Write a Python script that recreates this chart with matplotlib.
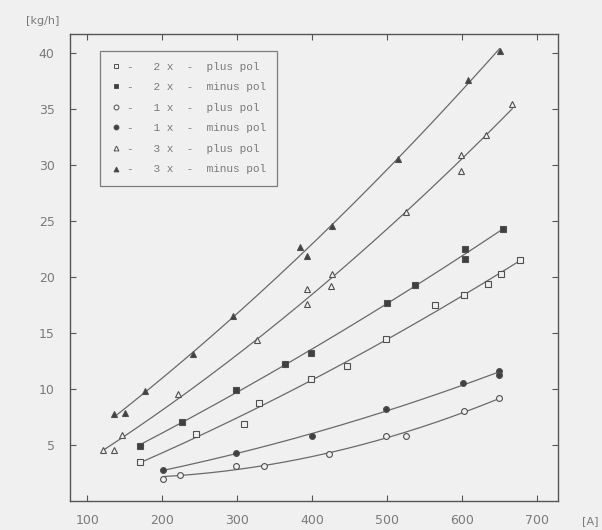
import numpy as np
import matplotlib
matplotlib.use('Agg')
import matplotlib.pyplot as plt
from matplotlib.lines import Line2D

# ---- data (current [A] vs. mass [kg/h]) ----
x_3x_minus = [136, 150, 177, 241, 295, 384, 393, 427, 515, 608, 650]
y_3x_minus = [7.8, 7.9, 9.85, 13.1, 16.5, 22.7, 21.9, 24.6, 30.6, 37.6, 40.2]

x_3x_plus = [121, 136, 146, 221, 326, 393, 393, 426, 425, 525, 599, 598, 632, 667]
y_3x_plus = [4.55, 4.55, 5.9, 9.6, 14.4, 18.9, 17.6, 20.3, 19.2, 25.8, 30.9, 29.5, 32.7, 35.5]

x_2x_minus = [170, 226, 299, 364, 398, 500, 537, 604, 604, 654]
y_2x_minus = [4.9, 7.1, 9.9, 12.2, 13.2, 17.65, 19.3, 22.5, 21.6, 24.3]

x_2x_plus = [170, 245, 309, 329, 399, 446, 499, 564, 602, 634, 652, 677]
y_2x_plus = [3.45, 5.95, 6.9, 8.8, 10.9, 12.1, 14.5, 17.5, 18.4, 19.4, 20.3, 21.5]

x_1x_minus = [201, 299, 400, 498, 601, 649, 649]
y_1x_minus = [2.77, 4.26, 5.8, 8.2, 10.5, 11.6, 11.3]

x_1x_plus = [201, 224, 299, 336, 423, 499, 525, 602, 649]
y_1x_plus = [2.0, 2.3, 3.15, 3.15, 4.2, 5.8, 5.8, 8.0, 9.2]

labels = ["2 x  -  plus pol", "2 x  -  minus pol", "1 x  -  plus pol",
          "1 x  -  minus pol", "3 x  -  plus pol", "3 x  -  minus pol"]
x_ticks = [100, 200, 300, 400, 500, 600, 700]
y_ticks = [5, 10, 15, 20, 25, 30, 35, 40]

BG = '#f0f0f0'
LC = '#6a6a6a'
TC = '#7a7a7a'

fig = plt.figure(figsize=(6.02, 5.30), dpi=100, facecolor=BG)
ax = fig.add_axes([70/602, 29/530, 488/602, 466.7/530])
ax.set_facecolor(BG)

series = [
    (x_2x_plus, y_2x_plus, 's', False),
    (x_2x_minus, y_2x_minus, 's', True),
    (x_1x_plus, y_1x_plus, 'o', False),
    (x_1x_minus, y_1x_minus, 'o', True),
    (x_3x_plus, y_3x_plus, '^', False),
    (x_3x_minus, y_3x_minus, '^', True),
]

handles = []
for xs, ys, mk, filled in series:
    xs = np.array(xs, float)
    ys = np.array(ys, float)
    c = np.polyfit(xs, ys, 2)
    xx = np.linspace(xs.min(), xs.max(), 200)
    ax.plot(xx, np.polyval(c, xx), color=LC, lw=0.9, zorder=2)
    fc = '#404040' if filled else BG
    ax.plot(xs, ys, linestyle='none', marker=mk, ms=4.2, mfc=fc,
            mec='#505050', mew=0.8, zorder=3)
    handles.append(Line2D([], [], linestyle='none', marker=mk, ms=3.5,
                          mfc=fc, mec='#505050', mew=0.7))

ax.set_xlim(77, 728)
ax.set_ylim(0, 41.7)
ax.set_xticks(x_ticks)
ax.set_yticks(y_ticks)
ax.tick_params(direction='in', top=True, right=True, length=4, width=0.8,
               colors='#555555', labelcolor=TC, labelsize=9)
ax.tick_params(axis='y', pad=11)
ax.tick_params(axis='x', pad=9)
for s in ax.spines.values():
    s.set_color('#555555')
    s.set_linewidth(1.0)

leg = ax.legend(handles, ["-   " + l for l in labels], loc='upper left',
                bbox_to_anchor=(0.051, 0.977), frameon=True, fancybox=False,
                handlelength=0.8, handletextpad=0.6, labelspacing=0.95,
                borderpad=1.0, prop={'family': 'Liberation Mono', 'size': 8})
leg.get_frame().set_edgecolor('#606060')
leg.get_frame().set_facecolor(BG)
leg.get_frame().set_linewidth(0.9)
for t in leg.get_texts():
    t.set_color(TC)

fig.text(43/602, 1 - 21/530, '[kg/h]', ha='center', va='center',
         fontsize=8, color=TC)
fig.text(590/602, 1 - 521/530, '[A]', ha='center', va='center',
         fontsize=8, color=TC)

fig.savefig('out.png', dpi=100, facecolor=BG)
